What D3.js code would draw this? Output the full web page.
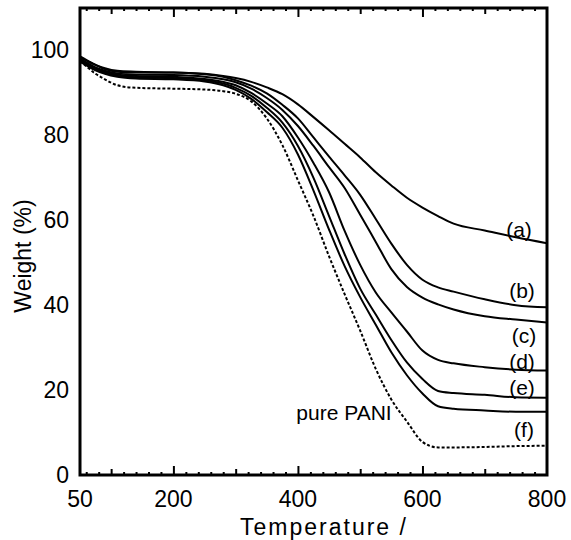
<!DOCTYPE html>
<html><head><meta charset="utf-8">
<script src="https://cdn.jsdelivr.net/npm/d3@7"></script>
<style>
body{margin:0;background:#fff}
svg{display:block}
text{font-family:"Liberation Sans",Arial,sans-serif;fill:#000}
</style>
</head><body>
<svg id="chart" width="571" height="540"></svg>
<script>
// Temperature grid (°C)
const temps = [50,60,75,90,110,140,200,250,280,300,325,350,375,400,425,450,475,500,525,550,575,600,625,650,700,750,800];
// Weight (%) for each sample
const seriesA = [98.3,97.6,96.6,95.8,95.2,95.0,94.8,94.5,94.0,93.5,92.6,91.3,89.7,87.3,84.3,81.2,78.0,74.8,71.3,68.2,65.3,63.0,61.0,59.2,57.6,56.0,54.6];
const seriesB = [98.6,97.8,96.6,95.6,95.0,94.8,94.8,94.4,93.8,93.0,91.7,89.9,87.2,84.0,79.5,75.0,70.6,66.0,60.3,54.5,49.5,46.0,44.2,43.2,41.4,40.0,39.5];
const seriesC = [98.0,97.2,96.0,95.2,94.6,94.3,94.2,93.8,93.2,92.5,91.0,88.8,86.0,82.2,77.5,72.5,67.6,61.3,54.9,48.5,44.3,41.8,40.2,39.0,37.4,36.6,35.9];
const seriesD = [97.8,97.0,95.8,95.0,94.3,94.0,93.8,93.3,92.6,91.8,90.0,87.5,84.5,79.5,73.5,66.6,57.5,49.5,43.0,38.3,33.8,29.3,27.1,26.3,25.4,24.8,24.6];
const seriesE = [97.6,96.8,95.6,94.8,94.0,93.7,93.5,93.0,92.2,91.2,89.3,86.5,83.0,77.5,70.0,61.0,52.0,43.9,37.8,31.8,26.5,22.6,19.8,19.3,18.9,18.3,18.2];
const seriesF = [97.4,96.5,95.3,94.5,93.8,93.4,93.2,92.7,91.8,90.7,88.6,85.5,81.8,75.5,67.0,57.8,49.2,41.9,35.4,28.9,23.5,19.2,16.2,15.6,15.2,14.9,14.9];
const seriesPANI = [97.5,96.3,94.5,93.2,91.8,91.2,91.0,90.8,90.4,89.8,88.0,84.0,77.7,69.4,61.0,51.5,42.6,34.0,25.0,17.8,12.6,7.8,6.5,6.5,6.6,6.8,6.9];

const seriesNames = ["(a)","(b)","(c)","(d)","(e)","(f)","pure PANI"];
const xTickLabels = [50,200,400,600,800];
const yTickLabels = [0,20,40,60,80,100];
const xTitle = "Temperature /";
const yTitle = "Weight (%)";

const svg = d3.select("#chart");
const L = 80, R = 547, T = 8, B = 475;
const x = d3.scaleLinear().domain([50,800]).range([L,R]);
const y = d3.scaleLinear().domain([0,110]).range([B,T]);

svg.append("defs").append("clipPath").attr("id","clip")
  .append("rect").attr("x",L).attr("y",T).attr("width",R-L).attr("height",B-T);

const line = d3.line().x(d=>x(d[0])).y(d=>y(d[1])).curve(d3.curveMonotoneX);
const solid = [seriesA,seriesB,seriesC,seriesD,seriesE,seriesF];
const g = svg.append("g").attr("clip-path","url(#clip)");
solid.forEach(s=>{
  g.append("path").datum(temps.map((t,i)=>[t,s[i]]))
    .attr("d",line).attr("fill","none").attr("stroke","#000").attr("stroke-width",2);
});
g.append("path").datum(temps.map((t,i)=>[t,seriesPANI[i]]))
  .attr("d",line).attr("fill","none").attr("stroke","#000").attr("stroke-width",2)
  .attr("stroke-dasharray","3,2");

// ticks (inward) on bottom and top
const minor = d3.range(60,800,20).filter(v=>v%100!==0);
const medium = [100,300,500,700];
const major = [200,400,600];
function ticks(vals,len){
  svg.append("g").attr("transform",`translate(0,${B})`)
    .call(d3.axisBottom(x).tickValues(vals).tickSize(-len).tickFormat(""))
    .call(a=>a.select(".domain").remove())
    .selectAll("line").attr("stroke","#000").attr("stroke-width",2);
  svg.append("g").attr("transform",`translate(0,${T})`)
    .call(d3.axisTop(x).tickValues(vals).tickSize(-len).tickFormat(""))
    .call(a=>a.select(".domain").remove())
    .selectAll("line").attr("stroke","#000").attr("stroke-width",2);
}
ticks(minor,3); ticks(medium,6); ticks(major,9);

// frame
svg.append("rect").attr("x",L).attr("y",T).attr("width",R-L).attr("height",B-T)
  .attr("fill","none").attr("stroke","#000").attr("stroke-width",3);

// tick labels
svg.append("g").selectAll("text").data(xTickLabels).join("text")
  .attr("x",d=>x(d)).attr("y",507).attr("text-anchor","middle")
  .attr("font-size",23).text(d=>d);
svg.append("g").selectAll("text").data(yTickLabels).join("text")
  .attr("x",69).attr("y",d=>y(d)+8).attr("text-anchor","end")
  .attr("font-size",23).text(d=>d);

// axis titles
svg.append("text").attr("x",324).attr("y",535).attr("text-anchor","middle")
  .attr("font-size",23).attr("letter-spacing",2).text(xTitle);
svg.append("text").attr("transform","translate(31,256) rotate(-90)")
  .attr("text-anchor","middle").attr("font-size",23).text(yTitle);

// curve labels
const labelPos = [[519,237],[522,298],[524,343],[522,369],[522,395],[524,437],[344,420]];
seriesNames.forEach((n,i)=>{
  svg.append("text").attr("x",labelPos[i][0]).attr("y",labelPos[i][1])
    .attr("text-anchor","middle").attr("font-size",21).text(n);
});
</script>
</body></html>
